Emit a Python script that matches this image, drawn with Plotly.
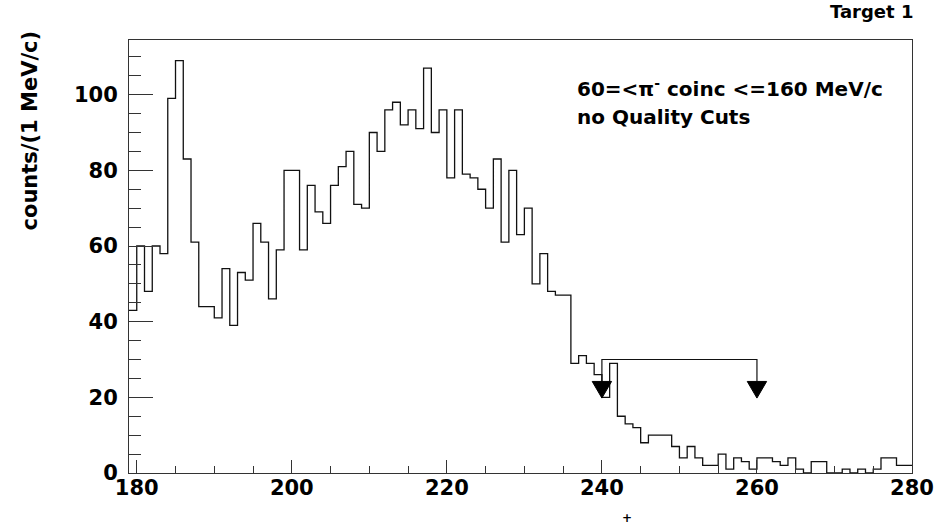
import plotly.graph_objects as go

# ---- data ----
bin_start = 179          # lower edge of first bin (MeV/c)
bin_width = 1            # MeV/c
counts = [43, 60, 48, 60, 58, 99, 109, 83, 61, 44,      # 179-188
          44, 41, 54, 39, 53, 51, 66, 61, 46, 59,       # 189-198
          80, 80, 59, 76, 69, 66, 76, 81, 85, 71,       # 199-208
          70, 90, 85, 96, 98, 92, 96, 91, 107, 90,      # 209-218
          96, 78, 96, 79, 78, 75, 70, 83, 61, 80,       # 219-228
          63, 70, 50, 58, 48, 47, 47, 29, 31, 29,       # 229-238
          26, 20, 29, 15, 13, 12, 8, 10, 10, 10,        # 239-248
          7, 4, 7, 4, 2, 2, 5, 1, 4, 3,                 # 249-258
          1, 4, 4, 3, 2, 4, 1, 0, 3, 3,                 # 259-268
          0, 0, 1, 0, 1, 0, 1, 4, 4, 2,                 # 269-278
          2]                                            # 279

x_ticks = [180, 200, 220, 240, 260, 280]
y_ticks = [0, 20, 40, 60, 80, 100]

cut_low, cut_high = 240, 260      # cut window marked by arrows
arrow_level = 30                  # height of the bracket
arrow_tip = 19.8                  # tip of arrowheads
head_len = 4.4                    # arrowhead length (counts)
head_halfwidth = 1.25             # arrowhead half-width (MeV/c)

x_range = [179, 280]
y_max = 1.05 * max(counts)

# ---- build histogram outline ----
edges = [bin_start + i * bin_width for i in range(len(counts) + 1)]
step_y = counts + [counts[-1]]

fig = go.Figure()
fig.add_trace(go.Scatter(x=edges, y=step_y, mode="lines",
                         line=dict(shape="hv", color="#111111", width=1.3),
                         hoverinfo="skip", showlegend=False))

# bracket
base = arrow_tip + head_len
fig.add_trace(go.Scatter(x=[cut_low, cut_low, cut_high, cut_high],
                         y=[base, arrow_level, arrow_level, base],
                         mode="lines", line=dict(color="#111111", width=1.2),
                         hoverinfo="skip", showlegend=False))
# arrowheads
for xc in (cut_low, cut_high):
    fig.add_trace(go.Scatter(x=[xc - head_halfwidth, xc + head_halfwidth, xc, xc - head_halfwidth],
                             y=[base, base, arrow_tip, base],
                             mode="lines", fill="toself", fillcolor="#000000",
                             line=dict(color="#000000", width=1),
                             hoverinfo="skip", showlegend=False))

FAM = "DejaVu Sans, Liberation Sans, Arial, sans-serif"
axis_font = dict(family=FAM, size=21, color="#000000", weight="bold")

fig.update_xaxes(range=x_range, tickmode="array", tickvals=x_ticks,
                 ticktext=[str(v) for v in x_ticks],
                 ticks="inside", ticklen=13, tickwidth=1, tickcolor="#333333",
                 minor=dict(tickmode="linear", tick0=180, dtick=5, ticks="inside",
                            ticklen=7, tickwidth=1, tickcolor="#333333"),
                 showline=True, mirror=True, linecolor="#333333", linewidth=1,
                 showgrid=False, zeroline=False, tickfont=axis_font,
                 ticklabelstandoff=-4, automargin=False)
fig.update_yaxes(range=[0, y_max], tickmode="array", tickvals=y_ticks,
                 ticktext=[str(v) for v in y_ticks],
                 ticks="inside", ticklen=24, tickwidth=1, tickcolor="#333333",
                 minor=dict(tickmode="linear", tick0=0, dtick=5, ticks="inside",
                            ticklen=12, tickwidth=1, tickcolor="#333333"),
                 showline=True, mirror=True, linecolor="#333333", linewidth=1,
                 showgrid=False, zeroline=False, tickfont=axis_font,
                 ticklabelstandoff=6, automargin=False)

txt_font = dict(family=FAM, color="#000000", weight="bold")

annotations = [
    dict(text="Target 1", xref="paper", yref="paper", x=1.0, y=1.066,
         xanchor="right", yanchor="middle", xshift=3, showarrow=False,
         font=dict(size=18, **txt_font)),
    dict(text="60=&lt;π<sup>-</sup> coinc &lt;=160 MeV/c", xref="paper", yref="paper",
         x=0.569, y=0.889, xanchor="left", yanchor="middle", showarrow=False,
         font=dict(size=20, **txt_font)),
    dict(text="no Quality Cuts", xref="paper", yref="paper",
         x=0.569, y=0.822, xanchor="left", yanchor="middle", showarrow=False,
         font=dict(size=20, **txt_font)),
    dict(text="counts/(1 MeV/c)", xref="paper", yref="paper",
         x=-0.127, y=0.79, xanchor="center", yanchor="middle", textangle=-90,
         showarrow=False, font=dict(size=21, **txt_font)),
    dict(text="+", xref="paper", yref="paper", x=0.636, y=-0.104,
         xanchor="center", yanchor="middle", showarrow=False,
         font=dict(size=12, **txt_font)),
]

fig.update_layout(width=935, height=525,
                  margin=dict(l=129, r=23, t=40, b=52, pad=0, autoexpand=False),
                  paper_bgcolor="white", plot_bgcolor="white",
                  annotations=annotations, showlegend=False)

fig.write_html("out.html")
